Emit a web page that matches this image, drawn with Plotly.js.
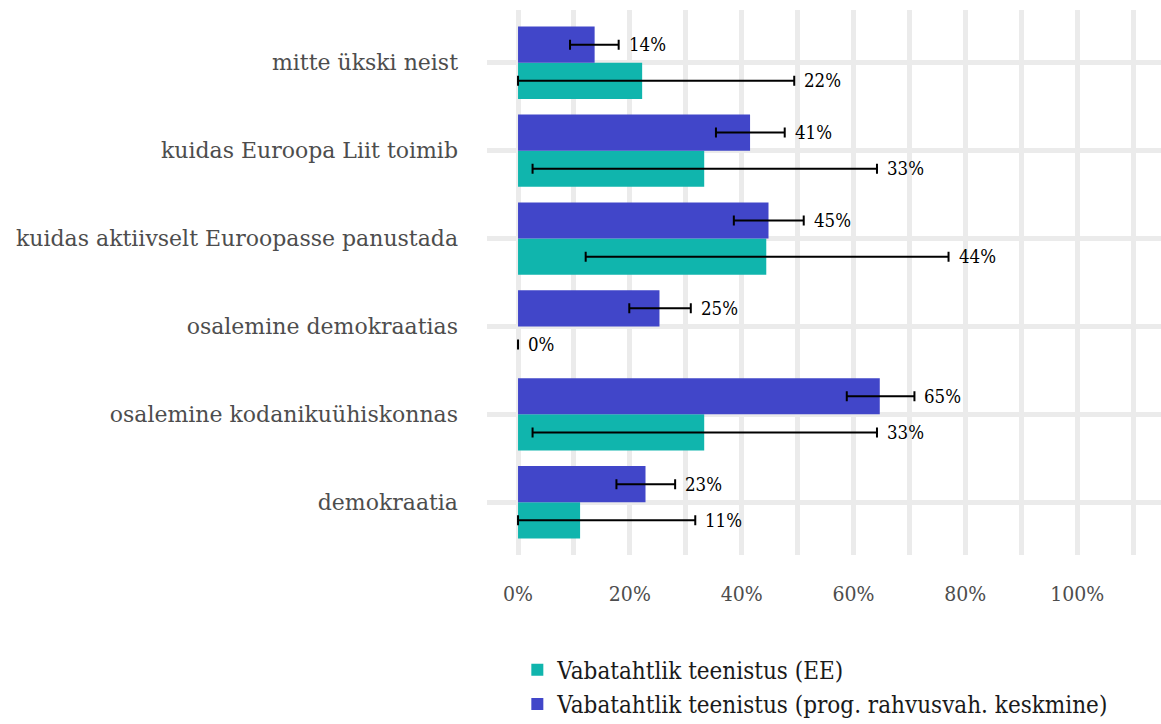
<!DOCTYPE html>
<html>
<head>
<meta charset="utf-8">
<script src="https://cdn.plot.ly/plotly-3.0.1.min.js"></script>
<style>html,body{margin:0;padding:0;background:#fff;}#chart{width:1161px;height:724px;}</style>
</head>
<body>
<div id="chart"></div>
<script>
// categories, bottom to top
var categories = ["demokraatia", "osalemine kodanikuühiskonnas", "osalemine demokraatias",
  "kuidas aktiivselt Euroopasse panustada", "kuidas Euroopa Liit toimib", "mitte ükski neist"];

// Series: Vabatahtlik teenistus (EE)
var eeName = "Vabatahtlik teenistus (EE)";
var eeValues = [11.1, 33.3, 0, 44.4, 33.3, 22.2];
var eeLow = [0, 2.6, 0, 12.1, 2.6, 0];
var eeHigh = [31.7, 64.2, 0, 77.0, 64.2, 49.4];
var eeLabels = ["11%", "33%", "0%", "44%", "33%", "22%"];

// Series: Vabatahtlik teenistus (prog. rahvusvah. keskmine)
var intName = "Vabatahtlik teenistus (prog. rahvusvah. keskmine)";
var intValues = [22.8, 64.7, 25.3, 44.8, 41.5, 13.7];
var intLow = [17.6, 58.8, 19.9, 38.6, 35.4, 9.3];
var intHigh = [28.1, 70.9, 30.9, 51.1, 47.7, 18.0];
var intLabels = ["23%", "65%", "25%", "45%", "41%", "14%"];

var xTickVals = [0, 20, 40, 60, 80, 100];
var xTickText = ["0%", "20%", "40%", "60%", "80%", "100%"];

var teal = "#10B5AD";
var blue = "#4146C9";

function diff(a, b) { return a.map(function (v, i) { return b[i] - v; }); }

var traces = [
  {
    type: "bar", orientation: "h", name: eeName, y: categories, x: eeValues,
    marker: { color: teal },
    error_x: { type: "data", symmetric: false, array: diff(eeValues, eeHigh), arrayminus: diff(eeLow, eeValues), color: "#000", thickness: 2, width: 5 },
    hoverinfo: "x+y"
  },
  {
    type: "bar", orientation: "h", name: intName, y: categories, x: intValues,
    marker: { color: blue },
    error_x: { type: "data", symmetric: false, array: diff(intValues, intHigh), arrayminus: diff(intLow, intValues), color: "#000", thickness: 2, width: 5 },
    hoverinfo: "x+y"
  }
];

var labelFont = { family: "DejaVu Serif Condensed, DejaVu Serif", size: 18.5, color: "#000" };
var annotations = [];
categories.forEach(function (c, i) {
  annotations.push({ x: eeHigh[i], y: c, xref: "x", yref: "y", text: eeLabels[i], showarrow: false,
    xanchor: "left", yanchor: "middle", xshift: 8, yshift: -18, font: labelFont });
  annotations.push({ x: intHigh[i], y: c, xref: "x", yref: "y", text: intLabels[i], showarrow: false,
    xanchor: "left", yanchor: "middle", xshift: 8, yshift: 18, font: labelFont });
});

var layout = {
  width: 1161, height: 724,
  margin: { l: 487, r: 0, t: 10, b: 169, autoexpand: false },
  paper_bgcolor: "#fff", plot_bgcolor: "#fff",
  barmode: "group", bargap: 0.177, bargroupgap: 0,
  showlegend: true,
  legend: {
    orientation: "v", x: 0.045, xanchor: "left", y: -0.17, yanchor: "top",
    font: { family: "DejaVu Serif Condensed, DejaVu Serif", size: 24, color: "#1a1a1a" },
    traceorder: "normal", tracegroupgap: 0, itemwidth: 30
  },
  xaxis: {
    range: [-5.55, 115], tickvals: xTickVals, ticktext: xTickText,
    showgrid: true, gridcolor: "#ebebeb", gridwidth: 5, zeroline: false,
    minor: { dtick: 10, tick0: 0, showgrid: true, gridcolor: "#ebebeb", gridwidth: 5 },
    ticks: "", ticklabelstandoff: 24,
    tickfont: { family: "DejaVu Serif Condensed, DejaVu Serif", size: 21, color: "#4d4d4d" },
    showline: false, fixedrange: true
  },
  yaxis: {
    type: "category", categoryorder: "array", categoryarray: categories,
    range: [-0.6, 5.6],
    showgrid: true, gridcolor: "#ebebeb", gridwidth: 5, zeroline: false,
    ticks: "", ticklabelstandoff: 28,
    tickfont: { family: "DejaVu Serif", size: 22, color: "#4d4d4d" },
    showline: false, fixedrange: true
  },
  annotations: annotations
};

Plotly.newPlot("chart", traces, layout, { displayModeBar: false, staticPlot: true });
</script>
</body>
</html>
